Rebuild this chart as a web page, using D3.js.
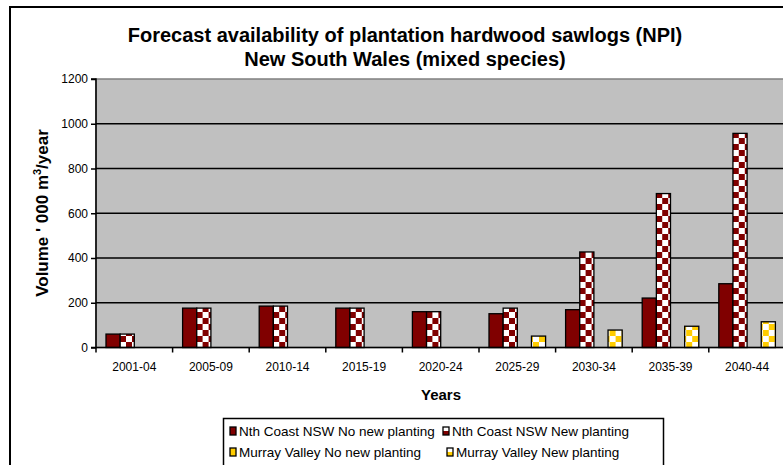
<!DOCTYPE html>
<html>
<head>
<meta charset="utf-8">
<script src="https://cdnjs.cloudflare.com/ajax/libs/d3/7.8.5/d3.min.js"></script>
<style>
  body { margin: 0; background: #fff; }
  svg { display: block; font-family: Arial, 'Liberation Sans', sans-serif; }
</style>
</head>
<body>
<svg id="chart" width="783" height="465"></svg>
<script>
const periods = ['2001-04', '2005-09', '2010-14', '2015-19', '2020-24', '2025-29', '2030-34', '2035-39', '2040-44']
const seriesNames = ['Nth Coast NSW No new planting', 'Nth Coast NSW New planting', 'Murray Valley No new planting', 'Murray Valley New planting']
const nthNoNew = [60, 176, 185, 176, 160, 151, 169, 221, 285]
const nthNew = [60, 176, 185, 176, 160, 176, 427, 688, 957]
const murrayNoNew = [0, 0, 0, 0, 0, 0, 0, 0, 0]
const murrayNew = [0, 0, 0, 0, 0, 51, 78, 95, 115]
const yTicks = [0, 200, 400, 600, 800, 1000, 1200]

const seriesValues = [nthNoNew, nthNew, murrayNoNew, murrayNew]
const fills = ['#800000', 'url(#chk-red)', '#FFCC00', 'url(#chk-yel)']

const svg = d3.select('#chart')
const plot = { left: 96, top: 79, right: 785.4, bottom: 347.5 }

// patterns
const defs = svg.append('defs')
function checker (id, color) {
  const p = defs.append('pattern').attr('id', id).attr('patternUnits', 'userSpaceOnUse')
    .attr('width', 12).attr('height', 12)
  p.append('rect').attr('width', 12).attr('height', 12).attr('fill', '#fff')
  p.append('rect').attr('width', 6).attr('height', 6).attr('fill', color)
  p.append('rect').attr('x', 6).attr('y', 6).attr('width', 6).attr('height', 6).attr('fill', color)
}
checker('chk-red', '#800000')
checker('chk-yel', '#FFCC00')

// outer frame
svg.append('rect').attr('x', 10).attr('y', 7).attr('width', 800).attr('height', 500)
  .attr('fill', '#fff').attr('stroke', '#000').attr('stroke-width', 2)

// title
const title = svg.append('text').attr('text-anchor', 'middle').attr('font-weight', 'bold').attr('font-size', 20)
title.append('tspan').attr('x', 405).attr('y', 42).text('Forecast availability of plantation hardwood sawlogs (NPI)')
title.append('tspan').attr('x', 405).attr('y', 66).text('New South Wales (mixed species)')

const x0 = d3.scaleBand().domain(periods).range([plot.left, plot.right])
const x1 = d3.scaleBand().domain(seriesNames).range([10, x0.bandwidth() - 10])
const y = d3.scaleLinear().domain([0, 1200]).range([plot.bottom, plot.top])

// plot background
svg.append('rect').attr('x', plot.left).attr('y', plot.top)
  .attr('width', plot.right - plot.left).attr('height', plot.bottom - plot.top)
  .attr('fill', '#C0C0C0').attr('stroke', '#808080').attr('stroke-width', 1.5)

// grid lines
svg.append('g').selectAll('line').data(yTicks.filter(d => d > 0 && d < 1200)).join('line')
  .attr('x1', plot.left).attr('x2', plot.right)
  .attr('y1', d => y(d)).attr('y2', d => y(d))
  .attr('stroke', '#000').attr('stroke-width', 1.5)

// bars
const groups = svg.append('g').selectAll('g').data(periods).join('g')
  .attr('transform', d => `translate(${x0(d)},0)`)
groups.selectAll('rect')
  .data((p, i) => seriesNames.map((s, k) => ({ s, k, v: seriesValues[k][i] })).filter(d => d.v > 0))
  .join('rect')
  .attr('x', d => x1(d.s))
  .attr('width', x1.bandwidth())
  .attr('y', d => y(d.v))
  .attr('height', d => y(0) - y(d.v))
  .attr('fill', d => fills[d.k])
  .attr('stroke', '#000').attr('stroke-width', 1.3)

// y axis
const yAxis = d3.axisLeft(y).tickValues(yTicks).tickSize(5).tickPadding(3).tickFormat(d3.format('d'))
const yG = svg.append('g').attr('transform', `translate(${plot.left},0)`).call(yAxis)
yG.select('.domain').attr('stroke', '#000').attr('stroke-width', 1.5).attr('d', `M-5,${plot.top}H0V${plot.bottom}H-5`)
yG.selectAll('.tick line').attr('stroke', '#000').attr('stroke-width', 1.5)
yG.selectAll('text').attr('font-size', 12).attr('font-family', 'Arial, Liberation Sans, sans-serif').attr('fill', '#000')

// x axis
const xG = svg.append('g').attr('transform', `translate(0,${plot.bottom})`)
xG.append('line').attr('x1', plot.left).attr('x2', plot.right).attr('stroke', '#000').attr('stroke-width', 1.5)
xG.selectAll('line.tk').data(periods).join('line').attr('class', 'tk')
  .attr('x1', d => x0(d)).attr('x2', d => x0(d)).attr('y1', 0).attr('y2', 5)
  .attr('stroke', '#000').attr('stroke-width', 1.5)
xG.selectAll('text').data(periods).join('text')
  .attr('x', d => x0(d) + x0.bandwidth() / 2).attr('y', 23)
  .attr('text-anchor', 'middle').attr('font-size', 12).text(d => d)

// axis titles
svg.append('text').attr('x', 441).attr('y', 400).attr('text-anchor', 'middle')
  .attr('font-weight', 'bold').attr('font-size', 15).text('Years')
const yt = svg.append('text').attr('transform', 'translate(48,213) rotate(-90)')
  .attr('text-anchor', 'middle').attr('font-weight', 'bold').attr('font-size', 17)
yt.append('tspan').text("Volume ' 000 m")
yt.append('tspan').attr('font-size', 11).attr('dy', -7).text('3')
yt.append('tspan').attr('dy', 7).text('/year')

// legend
const lg = svg.append('g')
lg.append('rect').attr('x', 223.5).attr('y', 418.5).attr('width', 440).attr('height', 60)
  .attr('fill', '#fff').attr('stroke', '#000').attr('stroke-width', 1.5)
const legendPos = [[230, 431], [443, 431], [230, 452], [447, 452]]
const items = lg.selectAll('g').data(seriesNames).join('g')
  .attr('transform', (d, i) => `translate(${legendPos[i][0]},${legendPos[i][1]})`)
items.append('rect').attr('x', 0).attr('y', -4).attr('width', 6).attr('height', 8)
  .attr('fill', (d, i) => fills[i]).attr('stroke', '#000').attr('stroke-width', 1.3)
items.append('text').attr('x', 9).attr('y', 5).attr('font-size', 13.5).text(d => d)
</script>
</body>
</html>
